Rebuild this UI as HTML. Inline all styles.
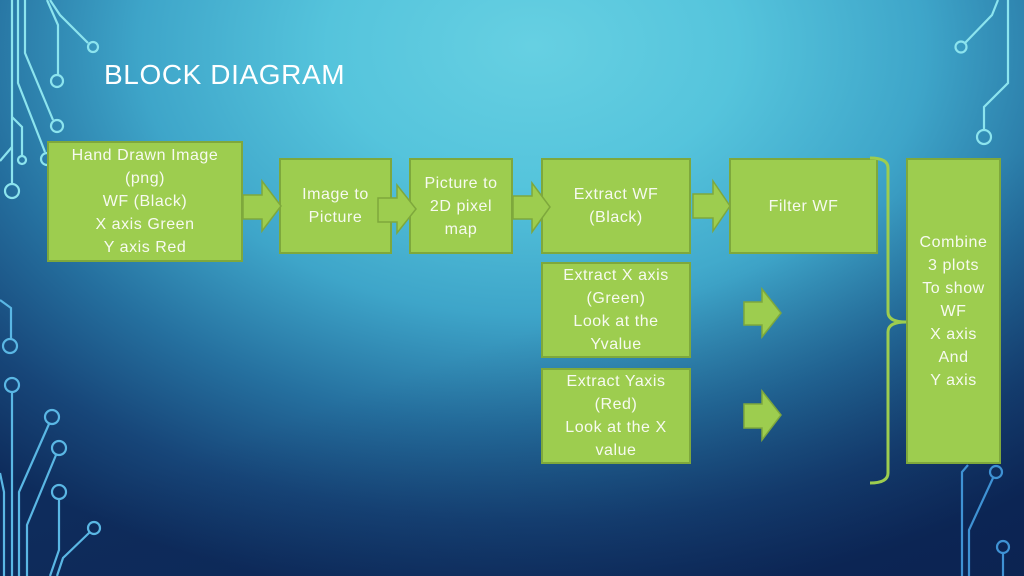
<!DOCTYPE html>
<html><head><meta charset="utf-8">
<style>
html,body{margin:0;padding:0;}
body{width:1024px;height:576px;overflow:hidden;position:relative;
background:
radial-gradient(ellipse 820px 560px at 52% 8%, #66d0e2 0%, #55c4dc 25%, #3ea5c9 48%, #25709f 68%, #174679 85%, #0e2c5c 100%);
font-family:"Liberation Sans",sans-serif;}
.bg2{position:absolute;left:0;top:0;width:1024px;height:576px;
background:linear-gradient(160deg, rgba(0,0,0,0) 55%, rgba(8,25,70,0.45) 100%);}
svg{position:absolute;left:0;top:0;}
.box{position:absolute;box-sizing:border-box;background:#9dcd4f;border:2px solid #7ea83c;
display:flex;flex-direction:column;align-items:center;justify-content:center;
color:#f7faf0;font-size:16px;letter-spacing:0.55px;line-height:23px;text-align:center;white-space:nowrap;}
.title{position:absolute;left:104px;top:58px;color:#fff;font-size:28px;letter-spacing:0.6px;line-height:34px;}
</style></head><body>
<div class="bg2"></div>
<svg width="1024" height="576" viewBox="0 0 1024 576" fill="none">
 <g stroke="#8ce4ee" stroke-width="2.2">
  <polyline points="50,0 60,15 88,43"/><circle cx="93" cy="47" r="5"/>
  <polyline points="47,0 58,25 58,75"/><circle cx="57" cy="81" r="6"/>
  <polyline points="25,0 25,53 53,120"/><circle cx="57" cy="126" r="6"/>
  <polyline points="18,0 18,83 45,152"/><circle cx="47" cy="159" r="6"/>
  <polyline points="12,0 12,184"/><circle cx="12" cy="191" r="7"/>
  <polyline points="12,117 22,127 22,156"/><circle cx="22" cy="160" r="4"/>
  <polyline points="12,147 0,161"/>
  <polyline points="998,0 992,15 965,43"/><circle cx="961" cy="47" r="5.5"/>
  <polyline points="1008,0 1008,83 984,107 984,130"/><circle cx="984" cy="137" r="7"/>
 </g>
 <g stroke="#5ab7e4" stroke-width="2.2">
  <polyline points="0,300 11,308 11,339"/><circle cx="10" cy="346" r="7"/>
  <circle cx="12" cy="385" r="7"/><polyline points="12,392 12,576"/>
  <circle cx="52" cy="417" r="7"/><polyline points="49,424 19,492 19,576"/>
  <circle cx="59" cy="448" r="7"/><polyline points="56,455 27,525 27,576"/>
  <circle cx="59" cy="492" r="7"/><polyline points="59,499 59,550 50,576"/>
  <circle cx="94" cy="528" r="6"/><polyline points="90,532 63,558 57,576"/>
  <polyline points="0,473 4,492 4,576"/>
 </g>
 <g stroke="#3f92d4" stroke-width="2.2">
  <polyline points="968,465 962,472 962,576"/>
  <circle cx="996" cy="472" r="6"/><polyline points="993,478 969,530 969,576"/>
  <circle cx="1003" cy="547" r="6"/><polyline points="1003,553 1003,576"/>
 </g>
</svg>
<div class="title">BLOCK DIAGRAM</div>

<div class="box" style="left:47px;top:141px;width:196px;height:121px;"><div>Hand Drawn Image</div><div>(png)</div><div>WF (Black)</div><div>X axis Green</div><div>Y axis Red</div></div>
<div class="box" style="left:279px;top:158px;width:113px;height:96px;"><div>Image to</div><div>Picture</div></div>
<div class="box" style="left:409px;top:158px;width:104px;height:96px;"><div>Picture to</div><div>2D pixel</div><div>map</div></div>
<div class="box" style="left:541px;top:158px;width:150px;height:96px;"><div>Extract WF</div><div>(Black)</div></div>
<div class="box" style="left:729px;top:158px;width:149px;height:96px;"><div>Filter WF</div></div>
<div class="box" style="left:541px;top:262px;width:150px;height:96px;"><div>Extract X axis</div><div>(Green)</div><div>Look at the</div><div>Yvalue</div></div>
<div class="box" style="left:541px;top:368px;width:150px;height:96px;"><div>Extract Yaxis</div><div>(Red)</div><div>Look at the X</div><div>value</div></div>
<div class="box" style="left:906px;top:158px;width:95px;height:306px;"><div>Combine</div><div>3 plots</div><div>To show</div><div>WF</div><div>X axis</div><div>And</div><div>Y axis</div></div>

<svg width="1024" height="576" viewBox="0 0 1024 576" fill="none">
 <g fill="#9dcd4f" stroke="#7ea83c" stroke-width="1.5" stroke-linejoin="miter">
  <polygon points="243,195 262,195 262,181 281,206 262,231 262,219 243,219"/>
  <polygon points="378,198 397,198 397,185 416,209 397,233 397,222 378,222"/>
  <polygon points="513,196 532,196 532,183 550,207 532,232 532,219 513,219"/>
  <polygon points="693,194 713,194 713,181 730,206 713,231 713,218 693,218"/>
  <polygon points="744,302 762,302 762,289 781,313 762,337 762,325 744,325"/>
  <polygon points="744,404 762,404 762,391 781,415 762,440 762,428 744,428"/>
 </g>
 <path d="M870,158 Q888,158 888,168 L888,312 Q888,322 906,322 M888,332 Q888,322 906,322 M888,332 L888,473 Q888,483 870,483" stroke="#9dcd4f" stroke-width="3"/>
</svg>
</body></html>
